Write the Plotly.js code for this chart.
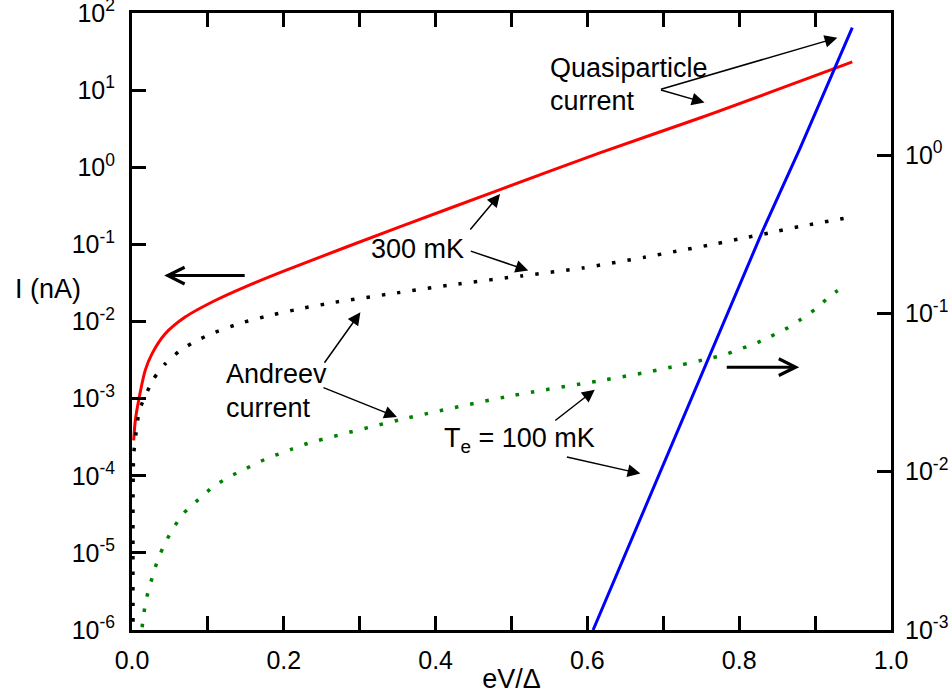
<!DOCTYPE html>
<html>
<head>
<meta charset="utf-8">
<script src="https://cdn.plot.ly/plotly-3.0.1.min.js"></script>
<style>
  html, body { margin: 0; padding: 0; background: #ffffff; }
  #chart { width: 951px; height: 694px; }
</style>
</head>
<body>
<div id="chart"></div>
<script>
// Quasiparticle current at 300 mK (left axis, nA)
const qp300V = [0.0022, 0.0044, 0.0088, 0.0175, 0.0263, 0.0438, 0.070, 0.1095, 0.153, 0.2015,
                0.3535, 0.4849, 0.6163, 0.749, 0.949];
const qp300I = [2.88e-4, 5.25e-4, 9.55e-4, 2.34e-3, 3.80e-3, 6.92e-3, 1.14e-2, 1.87e-2, 2.92e-2, 4.57e-2,
                0.170, 0.512, 1.54, 4.38, 23.2];

// Andreev current at 300 mK (left axis, nA)
const ar300V = [0.0015, 0.0022, 0.0066, 0.0096, 0.0285, 0.0438, 0.0635, 0.0832, 0.1042, 0.1445,
                0.1862, 0.227, 0.268, 0.349, 0.430, 0.513, 0.594, 0.675, 0.717, 0.759,
                0.799, 0.840, 0.879, 0.943];
const ar300I = [3.2e-7, 1.86e-4, 4.47e-4, 7.08e-4, 1.81e-3, 2.83e-3, 4.22e-3, 5.51e-3, 6.93e-3, 9.62e-3,
                1.23e-2, 1.50e-2, 1.78e-2, 2.35e-2, 3.07e-2, 3.90e-2, 4.95e-2, 6.79e-2, 8.13e-2, 9.73e-2,
                0.117, 0.141, 0.170, 0.222];

// Andreev current at Te = 100 mK (right axis)
const ar100V = [0.0115, 0.014, 0.017, 0.0214, 0.0272, 0.0338, 0.0424, 0.0535, 0.0679, 0.0876,
                0.107, 0.128, 0.149, 0.169, 0.189, 0.209, 0.230, 0.3535, 0.4958, 0.6185,
                0.680, 0.7205, 0.762, 0.782, 0.798, 0.818, 0.839, 0.859, 0.879, 0.900,
                0.920, 0.936];
const ar100I = [8.3e-4, 1.11e-3, 1.40e-3, 1.76e-3, 2.19e-3, 2.76e-3, 3.44e-3, 4.32e-3, 5.45e-3, 6.67e-3,
                8.02e-3, 9.27e-3, 1.04e-2, 1.16e-2, 1.27e-2, 1.38e-2, 1.50e-2, 2.13e-2, 2.99e-2, 3.77e-2,
                4.26e-2, 4.69e-2, 5.21e-2, 5.50e-2, 5.89e-2, 6.35e-2, 7.06e-2, 7.87e-2, 9.02e-2, 0.106,
                0.129, 0.146];

// Quasiparticle current at Te = 100 mK (right axis)
const qp100V = [0.6075, 0.7477, 0.831, 0.8804, 0.949];
const qp100I = [1.0e-3, 3.77e-2, 0.333, 1.11, 6.37];

// Axis ticks
const xTickVals = [0, 0.2, 0.4, 0.6, 0.8, 1.0];
const yTickVals = [1e-6, 1e-5, 1e-4, 1e-3, 1e-2, 1e-1, 1e0, 1e1, 1e2];
const yTickText = ['10<sup>-6</sup>', '10<sup>-5</sup>', '10<sup>-4</sup>', '10<sup>-3</sup>', '10<sup>-2</sup>',
                   '10<sup>-1</sup>', '10<sup>0</sup>', '10<sup>1</sup>', '10<sup>2</sup>'];
const y2TickVals = [1e-3, 1e-2, 1e-1, 1e0];
const y2TickText = ['10<sup>-3</sup>', '10<sup>-2</sup>', '10<sup>-1</sup>', '10<sup>0</sup>'];

const FONT = 'Liberation Sans, Arial, Helvetica, sans-serif';

const traces = [
  { x: qp300V, y: qp300I, type: 'scatter', mode: 'lines', yaxis: 'y',
    line: { color: '#ff0000', width: 3, shape: 'spline', smoothing: 0.8 }, hoverinfo: 'skip' },
  { x: ar300V, y: ar300I, type: 'scatter', mode: 'lines', yaxis: 'y',
    line: { color: '#000000', width: 3.5, dash: '3.5px,12px', shape: 'spline', smoothing: 0.5 }, hoverinfo: 'skip' },
  { x: ar100V, y: ar100I, type: 'scatter', mode: 'lines', yaxis: 'y2',
    line: { color: '#008000', width: 3.5, dash: '3.5px,12px', shape: 'spline', smoothing: 0.8 }, hoverinfo: 'skip' },
  { x: qp100V, y: qp100I, type: 'scatter', mode: 'lines', yaxis: 'y2',
    line: { color: '#0000ff', width: 3 }, hoverinfo: 'skip' }
];

const axisBase = {
  showline: true, linewidth: 3, linecolor: '#000000',
  ticks: 'inside', ticklen: 14, tickwidth: 3, tickcolor: '#000000',
  showgrid: false, zeroline: false, ticklabeloverflow: 'allow',
  tickfont: { family: FONT, size: 25, color: '#000000' }
};

const textFont = { family: FONT, size: 27, color: '#000000' };

// thin pointer arrows: head at (x, log10 y), tail offset in px
function pointer(x, ly, ax, ay) {
  return { xref: 'x', yref: 'y', x: x, y: ly, ax: ax, ay: ay, text: '',
           showarrow: true, arrowhead: 2, arrowsize: 1.7, arrowwidth: 1.5, arrowcolor: '#000000' };
}
// bold axis-direction arrows
function bold(x, ly, ax) {
  return { xref: 'x', yref: 'y', x: x, y: ly, ax: ax, ay: 0, text: '',
           showarrow: true, arrowhead: 5, arrowsize: 1.1, arrowwidth: 3, arrowcolor: '#000000' };
}
function label(txt, x, ly) {
  return { xref: 'x', yref: 'y', x: x, y: ly, text: txt, showarrow: false,
           xanchor: 'left', yanchor: 'middle', font: textFont };
}

const annotations = [
  label('Quasiparticle', 0.548, 1.288),
  label('current', 0.548, 0.861),
  label('300 mK', 0.312, -1.055),
  label('Andreev', 0.121, -2.686),
  label('current', 0.121, -3.126),
  label('T<sub>e</sub> = 100 mK', 0.408, -3.54),
  pointer(0.9294, 1.680, -178, 52),
  pointer(0.7543, 0.839, -45, -13),
  pointer(0.4849, -0.347, -31, 37),
  pointer(0.5221, -1.340, -59, -20),
  pointer(0.3009, -1.880, -37, 52),
  pointer(0.3491, -3.239, -75, -30),
  pointer(0.6097, -2.884, -41, 32),
  pointer(0.6698, -3.972, -75, -17),
  bold(0.0424, -1.405, 82),
  bold(0.8791, -2.592, -74),
  { xref: 'paper', yref: 'paper', x: -0.157, y: 0.552, text: 'I (nA)', showarrow: false,
    xanchor: 'left', yanchor: 'middle', font: textFont }
];

const layout = {
  width: 951, height: 694,
  margin: { l: 132, r: 60, t: 13, b: 64 },
  paper_bgcolor: '#ffffff', plot_bgcolor: '#ffffff',
  showlegend: false,
  xaxis: Object.assign({}, axisBase, {
    range: [0, 1], tickvals: xTickVals, tickformat: '.1f', mirror: 'allticks',
    ticklabelstandoff: 6,
    minor: { ticks: 'inside', dtick: 0.1, tick0: 0, ticklen: 7, tickwidth: 3, tickcolor: '#000000' },
    title: { text: 'eV/Δ', font: textFont, standoff: 0 }
  }),
  yaxis: Object.assign({}, axisBase, {
    type: 'log', range: [-6, 2], tickvals: yTickVals, ticktext: yTickText,
    ticklabelstandoff: 9
  }),
  yaxis2: Object.assign({}, axisBase, {
    type: 'log', range: [-3, 0.897], overlaying: 'y', side: 'right',
    tickvals: y2TickVals, ticktext: y2TickText, ticklabelstandoff: 6
  }),
  annotations: annotations
};

Plotly.newPlot('chart', traces, layout, { staticPlot: true, displayModeBar: false });
</script>
</body>
</html>
